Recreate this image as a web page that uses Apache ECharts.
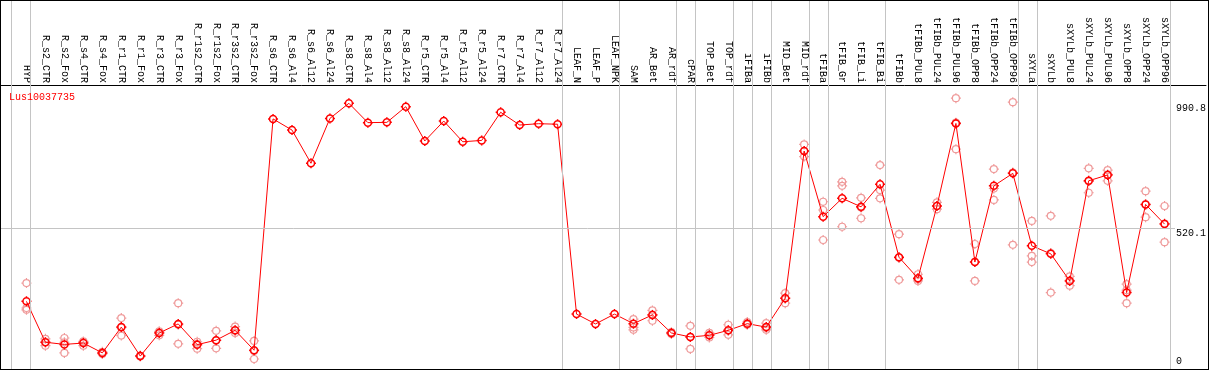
<!DOCTYPE html>
<html>
<head>
<meta charset="utf-8">
<script src="https://cdn.jsdelivr.net/npm/echarts@6/dist/echarts.min.js"></script>
<style>
  html, body { margin: 0; padding: 0; background: #ffffff; }
  #wrap { position: relative; width: 1209px; height: 370px; }
  #chart { position: absolute; left: 0; top: 0; width: 1209px; height: 370px; }
  #frame { position: absolute; left: 0; top: 0; width: 1209px; height: 370px; box-sizing: border-box; border: 1px solid #000; pointer-events: none; }
</style>
</head>
<body>
<div id="wrap"><div id="chart"></div><div id="frame"></div></div>
<script>
const categories = ['HYP','R_s2_CTR','R_s2_Fox','R_s4_CTR','R_s4_Fox','R_r1_CTR','R_r1_Fox','R_r3_CTR','R_r3_Fox','R_r1s2_CTR','R_r1s2_Fox','R_r3s2_CTR','R_r3s2_Fox','R_s6_CTR','R_s6_Al4','R_s6_Al12','R_s6_Al24','R_s8_CTR','R_s8_Al4','R_s8_Al12','R_s8_Al24','R_r5_CTR','R_r5_Al4','R_r5_Al12','R_r5_Al24','R_r7_CTR','R_r7_Al4','R_r7_Al12','R_r7_Al24','LEAF_N','LEAF_P','LEAF_NPK','SAM','AR_Bet','AR_rdf','cPAR','TOP_Bet','TOP_rdf','iFIBa','iFIBb','MID_Bet','MID_rdf','tFIBa','tFIB_Gr','tFIB_Li','tFIB_Bi','tFIBb','tFIBb_PUL8','tFIBb_PUL24','tFIBb_PUL96','tFIBb_OPP8','tFIBb_OPP24','tFIBb_OPP96','sXYLa','sXYLb','sXYLb_PUL8','sXYLb_PUL24','sXYLb_PUL96','sXYLb_OPP8','sXYLb_OPP24','sXYLb_OPP96'];

const means = [245,91,83,88,51,148,39,126,160,82,99,136,61,
  932,890,765,934, 990.8,918,919,978, 849,924,846,851, 957,909,914,912,
  197,160,197, 161,194,126, 111, 117,136, 161, 148, 257,811,
  564, 633,601,686, 411,332,604,915,393,680,727, 454, 424,322,699,721,278,610,536];

const rep1 = [314,104,107,94,55,182,41,132,238,93,134,150,96,
  null,null,null,null,null,null,null,null,null,null,null,null,null,null,null,null,null,null,null,
  178,211,129,153,126,157,167,163,276,836,
  620,695,635,758,498,347,618,1010,461,743,995,548,567,339,746,739,310,660,604];
const rep2 = [220,91,91,92,50,146,39,128,157,85,98,135,58,
  null,null,null,null,null,null,null,null,null,null,null,null,null,null,null,null,null,null,null,
  147,195,126,111,117,135,160,145,257,811,
  589,680,598,664,409,328,604,918,394,670,730,416,427,324,697,723,287,610,538];
const rep3 = [213,78,51,78,47,116,37,117,85,67,68,126,28,
  null,null,null,null,null,null,null,null,null,null,null,null,null,null,null,null,null,null,null,
  138,172,122,66,109,119,157,138,238,790,
  476,526,558,633,326,322,592,818,322,627,458,393,278,304,654,699,238,562,468];

// group separators: one before the first category, then after the last member of each group
const groupEnds = ['HYP','R_r7_Al24','LEAF_NPK','AR_rdf','cPAR','TOP_rdf','iFIBa','iFIBb','MID_rdf','tFIBa','tFIB_Bi','tFIBb_OPP96','sXYLa','sXYLb_OPP96'];

const yTickValues = [0, 520.1, 990.8];
const yTickLabels = ['0', '520.1', '990.8'];
const title = 'Lus10037735';

// ---- layout / style ----
const FONT = '"Liberation Mono", "DejaVu Sans Mono", monospace';
const X_MIN = -26.5 / 19, X_MAX = X_MIN + 1208 / 19;
const Y_MIN = -9.7, Y_MAX = 1059.7;
const SEP_OFFSET = 0.22;

const tickSym = 'path://M-3.5,0A3.5,3.5,0,0,1,0,-3.5A3.5,3.5,0,0,1,3.5,0A3.5,3.5,0,0,1,0,3.5A3.5,3.5,0,0,1,-3.5,0ZM0,-3.5L0,-5M0,3.5L0,5M-3.5,0L-5,0M3.5,0L5,0';

const meanData = means.map((v, i) => [i, v]);
const repData = [];
[rep1, rep2, rep3].forEach(arr => arr.forEach((v, i) => { if (v != null) repData.push([i, v]); }));
const sepPositions = [-1].concat(groupEnds.map(n => categories.indexOf(n))).map(i => i + SEP_OFFSET);

const chart = echarts.init(document.getElementById('chart'), null, { renderer: 'canvas' });
chart.setOption({
  animation: false,
  title: { text: title, left: 9, top: 92, padding: 0, textStyle: { color: '#ff0000', fontFamily: FONT, fontSize: 10, fontWeight: 'normal' } },
  grid: [
    { left: 0, right: 1, top: 85, bottom: 1 },
    { left: 0, right: 1, top: 0, bottom: 1 }
  ],
  xAxis: [
    { type: 'value', gridIndex: 0, position: 'top', min: X_MIN, max: X_MAX,
      axisLine: { show: true, onZero: false, lineStyle: { color: '#000', width: 1 } },
      axisTick: { show: false }, splitLine: { show: false },
      axisLabel: { customValues: categories.map((c, i) => i), formatter: v => categories[Math.round(v)],
        rotate: 90, margin: 2, color: '#000', fontFamily: FONT, fontSize: 10, hideOverlap: false } },
    { type: 'value', gridIndex: 1, min: X_MIN, max: X_MAX, show: false,
      axisLine: { show: false, onZero: false } }
  ],
  yAxis: [
    { type: 'value', gridIndex: 0, position: 'right', min: Y_MIN, max: Y_MAX,
      axisLine: { show: false, onZero: false }, axisTick: { show: false }, splitLine: { show: false },
      axisLabel: { inside: true, margin: 30, align: 'left', verticalAlign: 'top',
        customValues: yTickValues.slice(1), formatter: v => yTickLabels[yTickValues.indexOf(v)],
        color: '#000', fontFamily: FONT, fontSize: 10 } },
    { type: 'value', gridIndex: 0, position: 'right', min: Y_MIN, max: Y_MAX,
      axisLine: { show: false, onZero: false }, axisTick: { show: false }, splitLine: { show: false },
      axisLabel: { inside: true, margin: 30, align: 'left', verticalAlign: 'bottom',
        customValues: yTickValues.slice(0, 1), formatter: v => yTickLabels[yTickValues.indexOf(v)],
        color: '#000', fontFamily: FONT, fontSize: 10 } },
    { type: 'value', gridIndex: 1, min: 0, max: 1, show: false, axisLine: { show: false, onZero: false } }
  ],
  series: [
    { type: 'line', xAxisIndex: 1, yAxisIndex: 2, data: [], z: 1, silent: true,
      markLine: { silent: true, symbol: 'none', animation: false,
        label: { show: false },
        lineStyle: { color: '#c4c4c4', width: 1, type: 'solid' },
        emphasis: { disabled: true },
        data: sepPositions.map(x => ({ xAxis: x })) } },
    { type: 'scatter', xAxisIndex: 0, yAxisIndex: 0, data: repData, z: 3, silent: true,
      symbol: tickSym, symbolSize: 10,
      itemStyle: { color: 'rgba(0,0,0,0)', borderColor: '#ef9a9a', borderWidth: 1.2, opacity: 1 },
      markLine: { silent: true, symbol: 'none', animation: false, label: { show: false },
        lineStyle: { color: '#c4c4c4', width: 1, type: 'solid' },
        emphasis: { disabled: true },
        data: [[{ coord: [X_MIN, yTickValues[1]] }, { coord: [categories.length - 0.45, yTickValues[1]] }]] } },
    { type: 'line', xAxisIndex: 0, yAxisIndex: 0, data: meanData, z: 4, silent: true,
      showAllSymbol: true, symbol: tickSym, symbolSize: 10,
      lineStyle: { color: '#ff0000', width: 1 },
      itemStyle: { color: 'rgba(0,0,0,0)', borderColor: '#ff0000', borderWidth: 1.5 },
      emphasis: { disabled: true } }
  ]
});
</script>
</body>
</html>
